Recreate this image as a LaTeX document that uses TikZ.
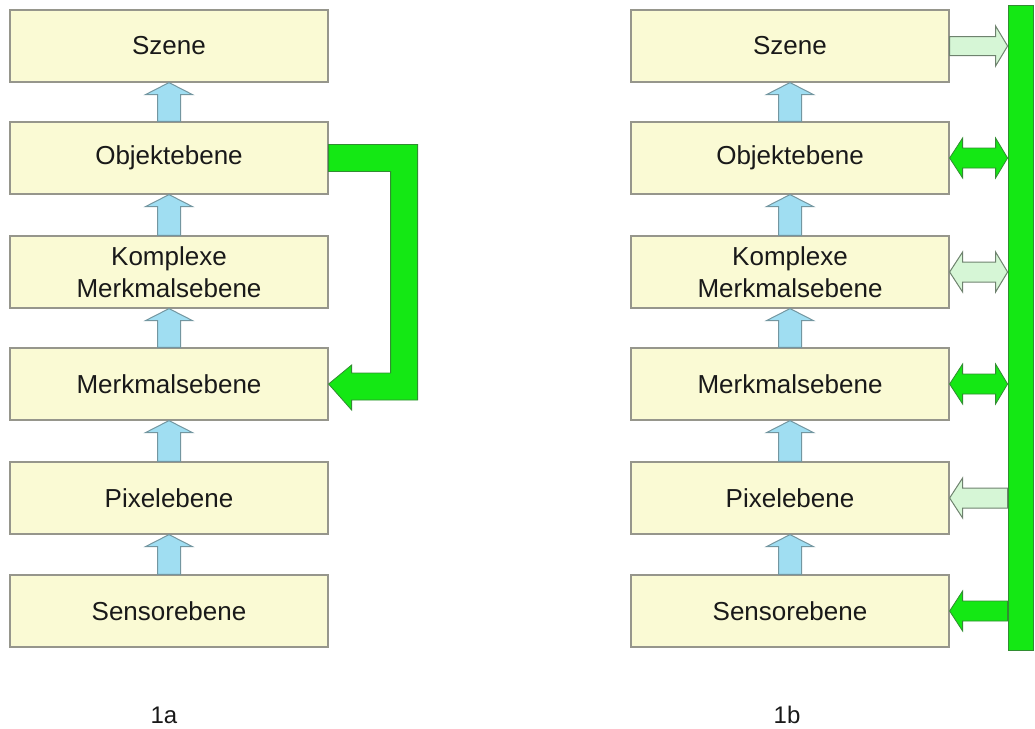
\documentclass[tikz,border=0pt]{standalone}
\usepackage{fontspec}
\setmainfont{Liberation Sans}
\usetikzlibrary{calc}
\definecolor{boxfill}{RGB}{250,250,212}
\definecolor{boxline}{RGB}{150,150,140}
\definecolor{bluefill}{RGB}{160,222,242}
\definecolor{blueline}{RGB}{115,150,160}
\definecolor{brightgreen}{RGB}{20,232,20}
\definecolor{greenline}{RGB}{50,140,50}
\definecolor{palegreen}{RGB}{214,246,214}
\definecolor{paleline}{RGB}{110,130,110}
\definecolor{txt}{RGB}{25,25,25}
\tikzset{
  level/.style={draw=boxline, line width=1.2pt, fill=boxfill, minimum width=318pt, minimum height=72pt, inner sep=0pt, align=center, text=txt, font=\fontsize{26}{32}\selectfont},
  bluearr/.style={draw=blueline, line width=1pt, fill=bluefill, line join=miter},
  brightarr/.style={draw=greenline, line width=0.8pt, fill=brightgreen, line join=miter},
  palearr/.style={draw=paleline, line width=1pt, fill=palegreen, line join=miter},
  caption/.style={text=txt, font=\fontsize{24}{28}\selectfont}
}
% up arrow from lower node #1 to upper node #2
\newcommand\blueup[2]{%
  \draw[bluearr] ($(#1.north)+(-11.5,0)$) -- ($(#2.south)+(-11.5,12)$) -- ($(#2.south)+(-23.5,12)$) -- (#2.south) -- ($(#2.south)+(23.5,12)$) -- ($(#2.south)+(11.5,12)$) -- ($(#1.north)+(11.5,0)$) -- cycle;}
% arrow pointing right from box #2 to bar, style #1
\newcommand\rarr[2]{%
  \coordinate (t#2) at (bar.west |- #2.east);
  \draw[#1] ($(#2.east)+(0,-9.5)$) -- ($(t#2)+(-12,-9.5)$) -- ($(t#2)+(-12,-20)$) -- (t#2) -- ($(t#2)+(-12,20)$) -- ($(t#2)+(-12,9.5)$) -- ($(#2.east)+(0,9.5)$) -- cycle;}
% arrow pointing left from bar to box #2
\newcommand\larr[2]{%
  \coordinate (t#2) at (bar.west |- #2.east);
  \draw[#1] ($(t#2)+(0,-10)$) -- ($(#2.east)+(13,-10)$) -- ($(#2.east)+(13,-20)$) -- (#2.east) -- ($(#2.east)+(13,20)$) -- ($(#2.east)+(13,10)$) -- ($(t#2)+(0,10)$) -- cycle;}
% double arrow between box #2 and bar
\newcommand\darr[2]{%
  \coordinate (t#2) at (bar.west |- #2.east);
  \draw[#1] ($(t#2)+(-12,-10)$) -- ($(#2.east)+(13,-10)$) -- ($(#2.east)+(13,-20)$) -- (#2.east) -- ($(#2.east)+(13,20)$) -- ($(#2.east)+(13,10)$) -- ($(t#2)+(-12,10)$) -- ($(t#2)+(-12,20)$) -- (t#2) -- ($(t#2)+(-12,-20)$) -- cycle;}
\begin{document}
\begin{tikzpicture}[x=1pt,y=-1pt]
\useasboundingbox (0,0) rectangle (1035,728);
% left column
\node[level] (aS) at (169,46) {Szene};
\node[level] (aO) at (169,158) {Objektebene};
\node[level] (aK) at (169,272) {Komplexe\\Merkmalsebene};
\node[level] (aM) at (169,384) {Merkmalsebene};
\node[level] (aP) at (169,498) {Pixelebene};
\node[level] (aE) at (169,611) {Sensorebene};
\blueup{aO}{aS}
\blueup{aK}{aO}
\blueup{aM}{aK}
\blueup{aP}{aM}
\blueup{aE}{aP}
% feedback arrow
\draw[brightarr] ($(aO.east)+(0,-13.5)$) -- ($(aO.east)+(89,-13.5)$) -- ($(aM.east)+(89,16)$) -- ($(aM.east)+(23,16)$) -- ($(aM.east)+(23,26)$) -- (aM.east) -- ($(aM.east)+(23,-19)$) -- ($(aM.east)+(23,-11)$) -- ($(aM.east)+(62,-11)$) -- ($(aO.east)+(62,13.5)$) -- ($(aO.east)+(0,13.5)$) -- cycle;
% right column
\node[level] (bS) at (790,46) {Szene};
\node[level] (bO) at (790,158) {Objektebene};
\node[level] (bK) at (790,272) {Komplexe\\Merkmalsebene};
\node[level] (bM) at (790,384) {Merkmalsebene};
\node[level] (bP) at (790,498) {Pixelebene};
\node[level] (bE) at (790,611) {Sensorebene};
\blueup{bO}{bS}
\blueup{bK}{bO}
\blueup{bM}{bK}
\blueup{bP}{bM}
\blueup{bE}{bP}
\node[draw=greenline, line width=0.8pt, fill=brightgreen, minimum width=25pt, minimum height=645pt, inner sep=0pt] (bar) at (1020.5,327.5) {};
\rarr{palearr}{bS}
\darr{brightarr}{bO}
\darr{palearr}{bK}
\darr{brightarr}{bM}
\larr{palearr}{bP}
\larr{brightarr}{bE}
% captions
\node[caption] (c1) at (164,715) {1a};
\node[caption] (c2) at (787,715) {1b};
\end{tikzpicture}
\end{document}
